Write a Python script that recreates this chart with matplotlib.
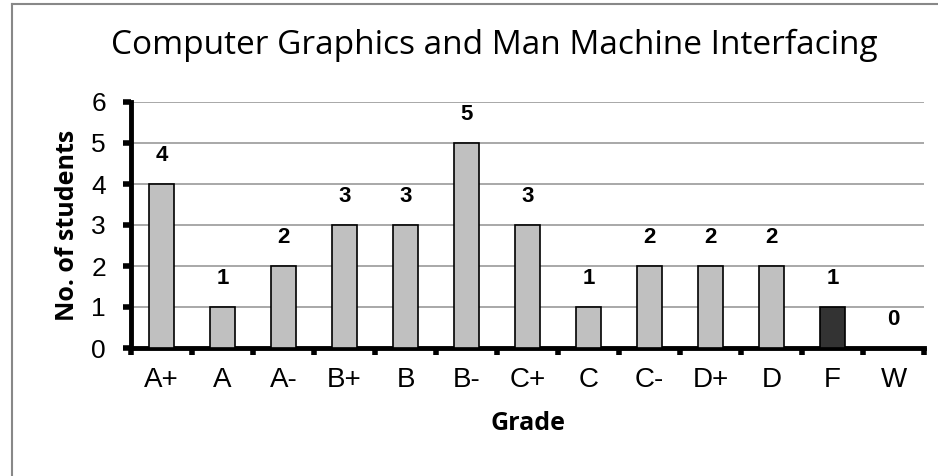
import matplotlib.pyplot as plt
import numpy as np

grades = ['A+', 'A', 'A-', 'B+', 'B', 'B-', 'C+', 'C', 'C-', 'D+', 'D', 'F', 'W']
students = [4, 1, 2, 3, 3, 5, 3, 1, 2, 2, 2, 1, 0]

fig = plt.figure(figsize=(9.38, 4.76), dpi=100)
ax = fig.add_axes([131 / 938, (476 - 348) / 476, (924 - 131) / 938, (348 - 102) / 476])

x = np.arange(len(grades))
colors = ['#c0c0c0'] * len(grades)
colors[grades.index('F')] = '#333333'
ax.bar(x, students, width=0.4, color=colors, edgecolor='black', linewidth=1.2, zorder=3)

# value labels above bars
for xi, v in zip(x, students):
    ax.annotate(str(v), (xi, v), xytext=(0, 13), textcoords='offset points',
                ha='center', va='bottom', fontsize=16, fontweight='bold',
                family='Liberation Sans')

ax.set_xlim(-0.5, len(grades) - 0.5)
ax.set_ylim(0, 6)
ax.set_yticks(range(7))
ax.yaxis.grid(True, color='#999999', linewidth=1.2, zorder=0)

ax.set_xticks(x)
ax.set_xticklabels(grades, family='Liberation Sans', fontsize=20)
ax.set_xticks(np.arange(-0.5, len(grades)), minor=True)
ax.tick_params(axis='x', which='major', length=0, pad=14)
ax.tick_params(axis='x', which='minor', length=5, width=4, direction='out')
ax.tick_params(axis='y', length=6, width=4, direction='out', pad=12)
for lbl in ax.get_yticklabels():
    lbl.set_family('Liberation Sans')
    lbl.set_fontsize(19)

for s in ['top', 'right']:
    ax.spines[s].set_visible(False)
for s in ['left', 'bottom']:
    ax.spines[s].set_linewidth(3.5)

ax.set_xlabel('Grade', family='Open Sans', fontweight='bold', fontsize=18, labelpad=13)
ax.set_ylabel('No. of students', family='Open Sans', fontweight='bold', fontsize=18, labelpad=8)
fig.text(0.527, 0.905, 'Computer Graphics and Man Machine Interfacing',
         ha='center', va='center', family='Open Sans', fontsize=24)

# outer chart border
fig.add_artist(plt.Line2D([12 / 938, 12 / 938], [0, 1 - 4 / 476], color='#888888', linewidth=1.5))
fig.add_artist(plt.Line2D([12 / 938, 1], [1 - 4 / 476, 1 - 4 / 476], color='#888888', linewidth=1.5))

fig.savefig('out.png', dpi=100)
